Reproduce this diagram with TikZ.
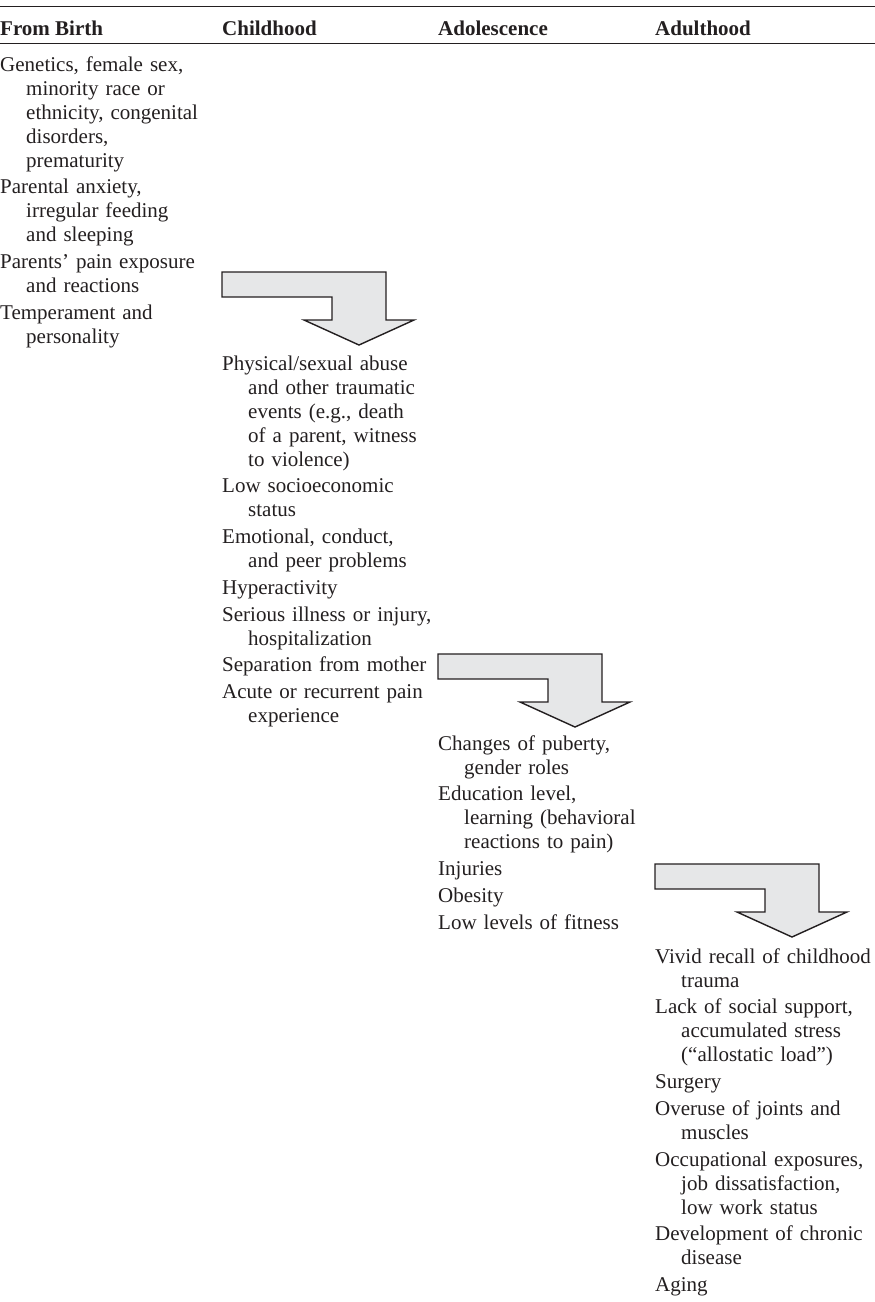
\documentclass[tikz,border=0pt]{standalone}
\usepackage{fontspec}
\setmainfont{Liberation Serif}
\usetikzlibrary{positioning}
\definecolor{ArrowFill}{RGB}{230, 231, 232}
\definecolor{Ink}{RGB}{35, 31, 32}

\tikzset{
    colhead/.style={anchor=base west, inner sep=0pt, text=Ink,
        font=\fontsize{21}{24}\selectfont\bfseries},
    factor/.style={anchor=north west, inner sep=0pt, text=Ink,
        text width=215pt, align=left,
        font=\fontsize{21}{24}\selectfont,
        execute at begin node={\hangindent=26pt\hangafter=1\strut},
        execute at end node={\strut}},
    next/.style={below=2.3pt of #1.south west, anchor=north west},
    turnarrow/.pic={
        \draw[fill=ArrowFill, draw=Ink, line width=1.4pt, line join=miter]
            (0,0) -- (164,0) -- (164,48) -- (192,48) -- (137,73)
            -- (82,48) -- (110,48) -- (110,25) -- (0,25) -- cycle;
    }
}

\begin{document}
\begin{tikzpicture}[x=1pt, y=-1pt]
    \useasboundingbox (0,0) rectangle (875,1302);

    % Header rules and column titles
    \draw[Ink, line width=1.5pt] (0,6.5) -- (875,6.5);
    \node[colhead] (hbirth) at (0,35.5) {From Birth};
    \node[colhead] (hchild) at (222,35.5) {Childhood};
    \node[colhead] (hadol) at (438,35.5) {Adolescence};
    \node[colhead] (hadult) at (655,35.5) {Adulthood};
    \draw[Ink, line width=1pt] (0,43.5) -- (875,43.5);

    % From birth
    \node[factor] (birth1) at (hbirth.west |- 0,54.2) {Genetics, female sex,\newline minority race or\newline ethnicity, congenital\newline disorders,\newline prematurity};
    \node[factor, next=birth1] (birth2) {Parental anxiety,\newline irregular feeding\newline and sleeping};
    \node[factor, next=birth2] (birth3) {Parents’ pain exposure\newline and reactions};
    \node[factor, next=birth3] (birth4) {Temperament and\newline personality};

    \pic at (222,272) {turnarrow};

    % Childhood
    \node[factor] (child1) at (hchild.west |- 0,353.2) {Physical/sexual abuse\newline and other traumatic\newline events (e.g., death\newline of a parent, witness\newline to violence)};
    \node[factor, next=child1] (child2) {Low socioeconomic\newline status};
    \node[factor, next=child2] (child3) {Emotional, conduct,\newline and peer problems};
    \node[factor, next=child3] (child4) {Hyperactivity};
    \node[factor, next=child4] (child5) {Serious illness or injury,\newline hospitalization};
    \node[factor, next=child5] (child6) {Separation from mother};
    \node[factor, next=child6] (child7) {Acute or recurrent pain\newline experience};

    \pic at (438,654) {turnarrow};

    % Adolescence
    \node[factor] (adol1) at (hadol.west |- 0,733.2) {Changes of puberty,\newline gender roles};
    \node[factor, next=adol1] (adol2) {Education level,\newline learning (behavioral\newline reactions to pain)};
    \node[factor, next=adol2] (adol3) {Injuries};
    \node[factor, next=adol3] (adol4) {Obesity};
    \node[factor, next=adol4] (adol5) {Low levels of fitness};

    \pic at (655,864) {turnarrow};

    % Adulthood
    \node[factor, text width=218pt] (adult1) at (hadult.west |- 0,946.2) {Vivid recall of childhood\newline trauma};
    \node[factor, next=adult1] (adult2) {Lack of social support,\newline accumulated stress\newline (“allostatic load”)};
    \node[factor, next=adult2] (adult3) {Surgery};
    \node[factor, next=adult3] (adult4) {Overuse of joints and\newline muscles};
    \node[factor, next=adult4] (adult5) {Occupational exposures,\newline job dissatisfaction,\newline low work status};
    \node[factor, next=adult5] (adult6) {Development of chronic\newline disease};
    \node[factor, next=adult6] (adult7) {Aging};
\end{tikzpicture}
\end{document}
